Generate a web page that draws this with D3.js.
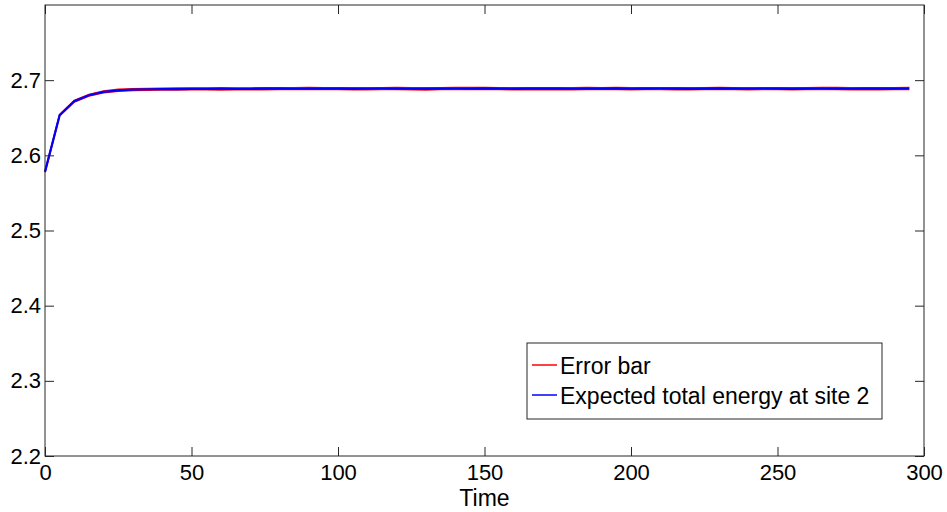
<!DOCTYPE html>
<html>
<head>
<meta charset="utf-8">
<script src="https://cdn.jsdelivr.net/npm/d3@7"></script>
<style>
  body { margin: 0; background: #fff; }
  svg { display: block; font-family: "Liberation Sans", Arial, Helvetica, sans-serif; }
</style>
</head>
<body>
<svg id="chart" width="947" height="512"></svg>
<script>
// time steps (0, 5, ..., 295)
const times = [0, 5, 10, 15, 20, 25, 30, 35, 40, 45,
  50, 55, 60, 65, 70, 75, 80, 85, 90, 95,
  100, 105, 110, 115, 120, 125, 130, 135, 140, 145,
  150, 155, 160, 165, 170, 175, 180, 185, 190, 195,
  200, 205, 210, 215, 220, 225, 230, 235, 240, 245,
  250, 255, 260, 265, 270, 275, 280, 285, 290, 295];

// expected total energy at site 2
const energy = [2.578, 2.6535, 2.672, 2.680, 2.6845, 2.6865, 2.6874, 2.6879, 2.6881, 2.6882,
  2.6883, 2.6884, 2.6884, 2.6885, 2.6884, 2.6887, 2.6888, 2.6886, 2.6889, 2.6887,
  2.6888, 2.6885, 2.6886, 2.6889, 2.6888, 2.6886, 2.6884, 2.6887, 2.6889, 2.6888,
  2.6890, 2.6887, 2.6885, 2.6888, 2.6887, 2.6889, 2.6886, 2.6888, 2.6887, 2.6890,
  2.6886, 2.6888, 2.6889, 2.6887, 2.6885, 2.6888, 2.6890, 2.6887, 2.6886, 2.6889,
  2.6888, 2.6885, 2.6887, 2.6889, 2.6888, 2.6886, 2.6889, 2.6887, 2.6888, 2.6889];

// half width of the error bar
const errHalf = [0.0005, 0.0007, 0.0009, 0.0010, 0.0011, 0.0012, 0.0012, 0.0011, 0.0012, 0.0013,
  0.0011, 0.0012, 0.0013, 0.0011, 0.0012, 0.0013, 0.0012, 0.0011, 0.0013, 0.0012,
  0.0011, 0.0013, 0.0012, 0.0011, 0.0013, 0.0012, 0.0013, 0.0011, 0.0012, 0.0013,
  0.0012, 0.0011, 0.0013, 0.0012, 0.0013, 0.0011, 0.0012, 0.0013, 0.0011, 0.0012,
  0.0013, 0.0012, 0.0011, 0.0013, 0.0012, 0.0011, 0.0013, 0.0012, 0.0013, 0.0011,
  0.0012, 0.0013, 0.0011, 0.0012, 0.0013, 0.0012, 0.0011, 0.0013, 0.0012, 0.0013];

const xTicks = [0, 50, 100, 150, 200, 250, 300];
const yTicks = [2.2, 2.3, 2.4, 2.5, 2.6, 2.7];
const legendLabels = ["Error bar", "Expected total energy at site 2"];
const legendColors = ["#ff0000", "#0000ff"];

const margin = { left: 45, top: 5, right: 23, bottom: 56 };
const width = 947, height = 512;
const axisColor = "#262626";

const svg = d3.select("#chart");

const x = d3.scaleLinear().domain([0, 300]).range([margin.left, width - margin.right]);
const y = d3.scaleLinear().domain([2.2, 2.8]).range([height - margin.bottom, margin.top]);

// error bar as upper and lower red lines, mean in blue on top
const lineUpper = d3.line().x((d, i) => x(times[i])).y((d, i) => y(energy[i] + errHalf[i]));
const lineLower = d3.line().x((d, i) => x(times[i])).y((d, i) => y(energy[i] - errHalf[i]));
const lineMean = d3.line().x((d, i) => x(times[i])).y((d) => y(d));

svg.append("path").datum(energy).attr("d", lineUpper)
  .attr("fill", "none").attr("stroke", legendColors[0]).attr("stroke-width", 1.6);
svg.append("path").datum(energy).attr("d", lineLower)
  .attr("fill", "none").attr("stroke", legendColors[0]).attr("stroke-width", 1.6);
svg.append("path").datum(energy).attr("d", lineMean)
  .attr("fill", "none").attr("stroke", legendColors[1]).attr("stroke-width", 2.2);

// axes: ticks point inwards, mirrored on top and right
const tickLen = 9;
const fmt = d3.format(".1f");
const bottomAxis = d3.axisBottom(x).tickValues(xTicks).tickSize(-tickLen).tickPadding(8);
const topAxis = d3.axisTop(x).tickValues(xTicks).tickSize(-tickLen).tickFormat("");
const leftAxis = d3.axisLeft(y).tickValues(yTicks).tickSize(-tickLen).tickPadding(4).tickFormat(fmt);
const rightAxis = d3.axisRight(y).tickValues(yTicks).tickSize(-tickLen).tickFormat("");

function styleAxis(g) {
  g.select(".domain").remove();
  g.selectAll(".tick line").attr("stroke", axisColor).attr("stroke-width", 1);
  g.selectAll(".tick text").attr("fill", "#000").style("font-size", "22px")
    .style("font-family", "'Liberation Sans', Arial, sans-serif");
}

svg.append("g").attr("transform", `translate(0,${y(2.2)})`).call(bottomAxis).call(styleAxis);
svg.append("g").attr("transform", `translate(0,${y(2.8)})`).call(topAxis).call(styleAxis);
svg.append("g").attr("transform", `translate(${x(0)},0)`).call(leftAxis).call(styleAxis);
svg.append("g").attr("transform", `translate(${x(300)},0)`).call(rightAxis).call(styleAxis);

// box
svg.append("rect")
  .attr("x", x(0)).attr("y", y(2.8))
  .attr("width", x(300) - x(0)).attr("height", y(2.2) - y(2.8))
  .attr("fill", "none").attr("stroke", axisColor).attr("stroke-width", 1);

// x label
svg.append("text")
  .attr("x", (x(0) + x(300)) / 2).attr("y", 506)
  .attr("text-anchor", "middle")
  .style("font-size", "23px")
  .text("Time");

// legend
const legend = svg.append("g").attr("transform", "translate(527,343)");
legend.append("rect")
  .attr("width", 355).attr("height", 76)
  .attr("fill", "#fff").attr("stroke", axisColor).attr("stroke-width", 1);
legendLabels.forEach((label, i) => {
  const ly = 22 + i * 30;
  legend.append("line")
    .attr("x1", 5).attr("x2", 30).attr("y1", ly).attr("y2", ly)
    .attr("stroke", legendColors[i]).attr("stroke-width", 1.5);
  legend.append("text")
    .attr("x", 33).attr("y", ly + 9)
    .style("font-size", "23px")
    .text(label);
});
</script>
</body>
</html>
